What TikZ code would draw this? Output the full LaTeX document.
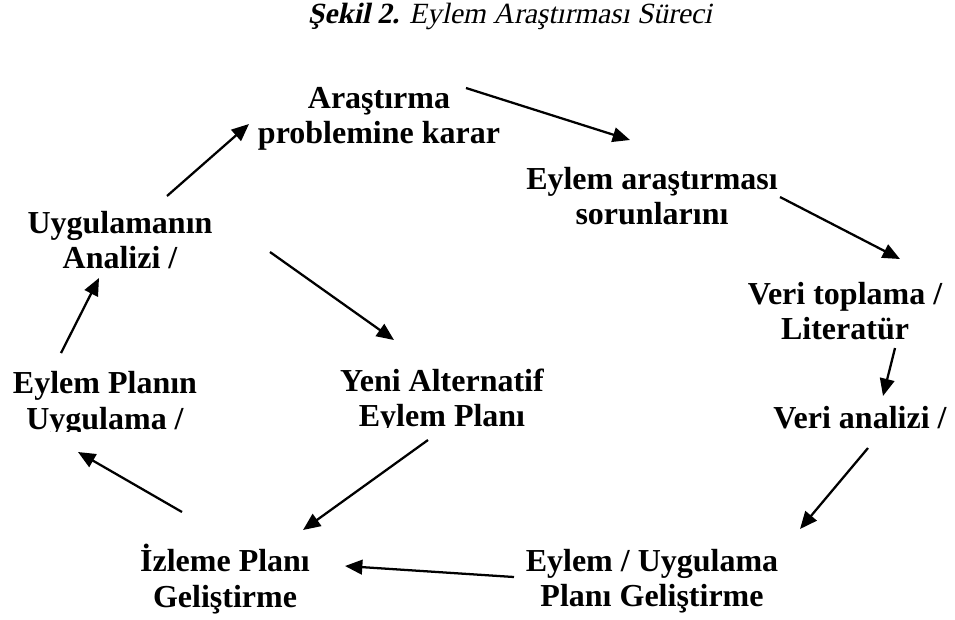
\documentclass[tikz,border=0pt]{standalone}
\usepackage{fontspec}
\setmainfont{Liberation Serif}[
  ItalicFont={Liberation Serif},
  ItalicFeatures={FakeSlant=0.21},
  BoldItalicFont={Liberation Serif Bold},
  BoldItalicFeatures={FakeSlant=0.21}]
\usetikzlibrary{arrows.meta}
\tikzset{
  lbl/.style={align=center, font=\fontsize{24}{26.5}\selectfont\bfseries, inner sep=0pt},
  conn/.style={line width=1.7pt, -{Triangle[length=13pt,width=11pt]}},
}
\begin{document}
\begin{tikzpicture}[x=0.75pt,y=-0.75pt]
\useasboundingbox (0,0) rectangle (955,619);
\node[font=\fontsize{22}{24}\selectfont, anchor=base] (title) at (510,23) {\textbf{\textit{Şekil 2.}} \textit{Eylem Araştırması Süreci}};
\node[lbl] (a) at (379,119) {Araştırma\\problemine karar};
\node[lbl] (b) at (652,196) {Eylem araştırması\\sorunlarını};
\node[lbl] (c) at (845,311) {Veri toplama /\\Literatür};
\begin{scope}
\clip (700,380) rectangle (955,432);
\node[lbl] (d) at (860,418) {Veri analizi /};
\end{scope}
\node[lbl] (e) at (652,581) {Eylem / Uygulama\\Planı Geliştirme};
\node[lbl] (f) at (225,579) {İzleme Planı\\Geliştirme};
\begin{scope}
\clip (0,360) rectangle (260,431);
\node[lbl] (g) at (105,404) {Eylem Planın\\Uygulama /};
\end{scope}
\node[lbl] (h) at (120,240) {Uygulamanın\\Analizi /};
\begin{scope}
\clip (300,360) rectangle (580,427);
\node[lbl] (i) at (442,401) {Yeni Alternatif\\Eylem Planı};
\end{scope}
% connector end points
\coordinate (h1) at (167,196); \coordinate (a0) at (249,124);
\coordinate (a1) at (466,88);  \coordinate (b0) at (630,140);
\coordinate (b1) at (780,197); \coordinate (c0) at (900,259);
\coordinate (c1) at (895,348); \coordinate (d0) at (883,396);
\coordinate (d1) at (868,448); \coordinate (e0) at (800,529);
\coordinate (e1) at (514,577); \coordinate (f0) at (345,566);
\coordinate (f1) at (182,512); \coordinate (g0) at (78,452);
\coordinate (g1) at (61,353);  \coordinate (h0) at (99,278);
\coordinate (h2) at (270,252); \coordinate (i0) at (394,340);
\coordinate (i1) at (428,440); \coordinate (f2) at (303,530);
\draw[conn] (h1) -- (a0);
\draw[conn] (a1) -- (b0);
\draw[conn] (b1) -- (c0);
\draw[conn] (c1) -- (d0);
\draw[conn] (d1) -- (e0);
\draw[conn] (e1) -- (f0);
\draw[conn] (f1) -- (g0);
\draw[conn] (g1) -- (h0);
\draw[conn] (h2) -- (i0);
\draw[conn] (i1) -- (f2);
\end{tikzpicture}
\end{document}
